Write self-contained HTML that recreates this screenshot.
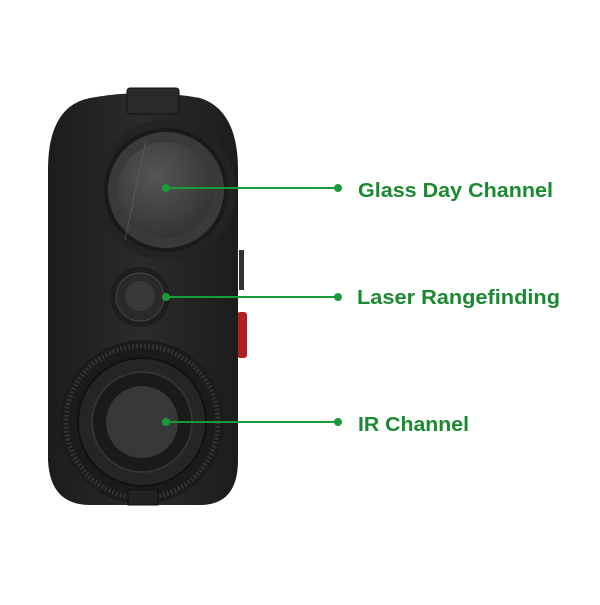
<!DOCTYPE html><html><head><style>body{margin:0;background:#fff;width:600px;height:600px;overflow:hidden}</style></head><body>
<svg width="600" height="600" viewBox="0 0 600 600" xmlns="http://www.w3.org/2000/svg">
<defs>
<radialGradient id="g1" cx="40%" cy="35%" r="70%"><stop offset="0" stop-color="#555"/><stop offset="1" stop-color="#333"/></radialGradient>
<linearGradient id="b" x1="0" x2="1"><stop offset="0" stop-color="#1c1c1c"/><stop offset="0.5" stop-color="#2b2b2b"/><stop offset="1" stop-color="#1c1c1c"/></linearGradient>
</defs>
<rect x="237" y="312" width="10" height="46" rx="3" fill="#b02020"/>
<rect x="239" y="250" width="5" height="40" fill="#333"/>
<path d="M90,98 Q145,88 200,98 Q238,110 238,170 L238,460 Q238,505 200,505 L90,505 Q50,505 48,460 L48,170 Q48,106 90,98Z" fill="url(#b)"/>
<rect x="127" y="88" width="52" height="26" rx="3" fill="#2a2a2a" stroke="#111"/>
<circle cx="166" cy="190" r="70" fill="#232323"/>
<circle cx="166" cy="190" r="60" fill="#3a3a3a" stroke="#1a1a1a" stroke-width="4"/>
<circle cx="166" cy="190" r="48" fill="url(#g1)"/>
<path d="M146,140 L125,240" stroke="#666" stroke-width="1" opacity="0.6"/>
<circle cx="140" cy="297" r="30" fill="#1e1e1e"/>
<circle cx="140" cy="297" r="24" fill="#2a2a2a" stroke="#444"/>
<circle cx="140" cy="296" r="15" fill="#383838"/>
<circle cx="142" cy="422" r="82" fill="#1b1b1b"/>
<circle cx="142" cy="422" r="76" fill="none" stroke="#333" stroke-width="5" stroke-dasharray="2 2"/>
<circle cx="142" cy="422" r="64" fill="#252525" stroke="#111" stroke-width="2"/>
<circle cx="142" cy="422" r="50" fill="#1a1a1a" stroke="#333" stroke-width="2"/>
<circle cx="142" cy="422" r="36" fill="#383838"/>
<rect x="128" y="490" width="30" height="15" fill="#222" stroke="#111"/>
<g stroke="#1a9a3a" stroke-width="2" fill="#1a9a3a">
<line x1="166" y1="188" x2="338" y2="188"/><circle cx="166" cy="188" r="3"/><circle cx="338" cy="188" r="3"/>
<line x1="166" y1="297" x2="338" y2="297"/><circle cx="166" cy="297" r="3"/><circle cx="338" cy="297" r="3"/>
<line x1="166" y1="422" x2="338" y2="422"/><circle cx="166" cy="422" r="3"/><circle cx="338" cy="422" r="3"/>
</g>
<g font-family="Liberation Sans, sans-serif" font-size="20" font-weight="bold" fill="#1a8a30">
<text x="358" y="197" textLength="195" lengthAdjust="spacingAndGlyphs">Glass Day Channel</text>
<text x="357" y="304" textLength="203" lengthAdjust="spacingAndGlyphs">Laser Rangefinding</text>
<text x="358" y="431" textLength="111" lengthAdjust="spacingAndGlyphs">IR Channel</text>
</g>
</svg>
</body></html>
